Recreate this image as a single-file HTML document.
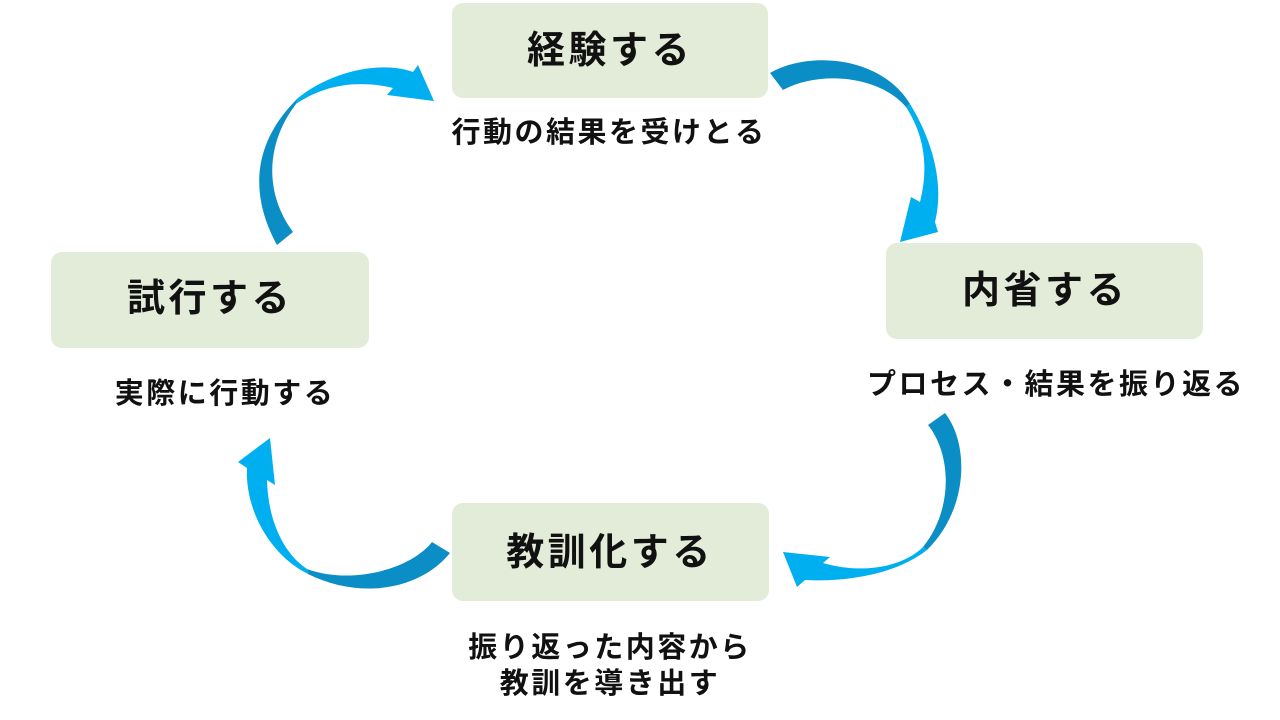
<!DOCTYPE html>
<html>
<head>
<meta charset="utf-8">
<style>
  html,body{margin:0;padding:0;background:#fff;}
  body{width:1280px;height:720px;overflow:hidden;}
  svg{display:block;}
  text{font-family:"Liberation Sans","Noto Sans CJK JP",sans-serif;font-weight:700;fill:#111;}
  .t{font-size:38px;letter-spacing:3.5px;}
  .s{font-size:29px;letter-spacing:2.5px;}
</style>
</head>
<body>
<svg width="1280" height="720" viewBox="0 0 1280 720" xmlns="http://www.w3.org/2000/svg">
  <!-- boxes -->
  <rect x="452" y="3" width="316" height="95" rx="11" fill="#e3ecd9"/>
  <rect x="51" y="252" width="318" height="96" rx="11" fill="#e3ecd9"/>
  <rect x="886" y="243" width="317" height="96" rx="11" fill="#e3ecd9"/>
  <rect x="452" y="503" width="317" height="98" rx="11" fill="#e3ecd9"/>

  <!-- Arrow 1: top -> right -->
  <path d="M770 73 C810 50, 882 57, 910 104 L906 107 C880 76, 820 70, 783 90 Z" fill="#0b8ec6"/>
  <path d="M910 104 C931 138, 945 182, 935 222 L938 232 L900 242 L911 197 L920 202 C928 170, 926 138, 906 107 Z" fill="#00afef"/>

  <!-- Arrow 2: left -> top -->
  <path d="M277 245 C255 205, 245 150, 298 98 L296 104 C268 140, 262 190, 293 232 Z" fill="#0b8ec6"/>
  <path d="M298 98 C330 72, 380 60, 413 72 L418 65 L434 101 L387 95 L393 88 C360 80, 325 84, 296 104 Z" fill="#00afef"/>

  <!-- Arrow 3: right -> bottom -->
  <path d="M945 413 C970 445, 968 510, 927 550 L923 547 C953 510, 952 455, 928 425 Z" fill="#0b8ec6"/>
  <path d="M927 550 C895 575, 845 582, 805 580 L797 587 L783 552 L830 557 L823 563 C860 574, 902 568, 923 547 Z" fill="#00afef"/>

  <!-- Arrow 4: bottom -> left -->
  <path d="M450 553 C420 590, 360 600, 308 574 L307 569 C350 585, 410 570, 432 542 Z" fill="#0b8ec6"/>
  <path d="M308 574 C270 555, 245 510, 247 468 L238 462 L270 438 L275 485 L267 480 C268 520, 283 553, 307 569 Z" fill="#00afef"/>

  <!-- titles -->
  <text class="t" x="610" y="63" text-anchor="middle">経験する</text>
  <text class="t" x="210" y="311" text-anchor="middle">試行する</text>
  <text class="t" x="1045" y="303" text-anchor="middle">内省する</text>
  <text class="t" x="610" y="565" text-anchor="middle">教訓化する</text>

  <!-- subtitles -->
  <text class="s" x="609" y="142" text-anchor="middle">行動の結果を受けとる</text>
  <text class="s" x="225" y="403" text-anchor="middle">実際に行動する</text>
  <text class="s" x="1056" y="394" text-anchor="middle">プロセス・結果を振り返る</text>
  <text class="s" x="610" y="657" text-anchor="middle">振り返った内容から</text>
  <text class="s" x="610" y="693" text-anchor="middle">教訓を導き出す</text>
</svg>
</body>
</html>
